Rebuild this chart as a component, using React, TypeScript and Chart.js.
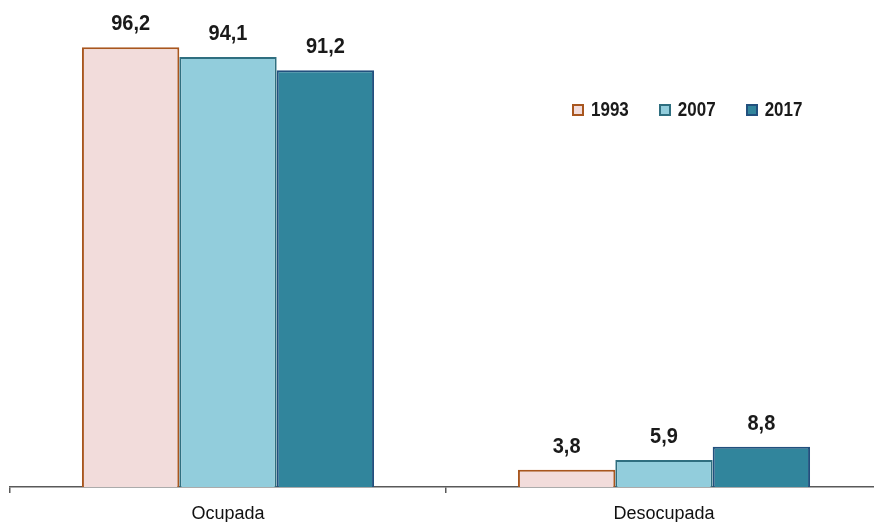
import React, { useEffect, useRef } from "react";
import { Chart, registerables } from "chart.js";

Chart.register(...registerables);

const categories = ["Ocupada", "Desocupada"];
const years = ["1993", "2007", "2017"];
const values1993 = [96.2, 3.8];
const values2007 = [94.1, 5.9];
const values2017 = [91.2, 8.8];
const fillColors = ["#F2DCDB", "#92CDDC", "#31859C"];
const borderColors = ["#A8561E", "#2F6F80", "#22507E"];

const FONT = "'Liberation Sans', Arial, sans-serif";

const valueLabels = {
  id: "valueLabels",
  afterDatasetsDraw(chart: any) {
    const ctx = chart.ctx;
    ctx.save();
    ctx.font = `bold 20px ${FONT}`;
    ctx.fillStyle = "#1a1a1a";
    ctx.textAlign = "center";
    ctx.textBaseline = "middle";
    chart.data.datasets.forEach((ds: any, i: number) => {
      chart.getDatasetMeta(i).data.forEach((bar: any, j: number) => {
        const v = Number(ds.data[j]).toFixed(1).replace(".", ",");
        ctx.save();
        ctx.translate(bar.x, bar.y - 23);
        ctx.scale(1, 1.08);
        ctx.fillText(v, 0, 0);
        ctx.restore();
      });
    });
    ctx.restore();
  },
};

export default function App() {
  const canvasRef = useRef<HTMLCanvasElement | null>(null);

  useEffect(() => {
    if (!canvasRef.current) return;
    const series = [values1993, values2007, values2017];
    const chart = new Chart(canvasRef.current, {
      type: "bar",
      data: {
        labels: categories,
        datasets: years.map((y, i) => ({
          label: y,
          data: series[i],
          backgroundColor: fillColors[i],
          borderColor: borderColors[i],
          borderWidth: 2,
          categoryPercentage: 0.67,
          barPercentage: 1.0,
        })),
      },
      options: {
        animation: false,
        responsive: false,
        devicePixelRatio: 1,
        layout: { padding: { left: 10, top: 30, right: 2, bottom: 0 } },
        plugins: {
          legend: { display: false },
          tooltip: { enabled: false },
        },
        scales: {
          y: { display: false, min: 0, max: 100 },
          x: {
            grid: {
              display: true,
              drawOnChartArea: false,
              drawTicks: true,
              tickLength: 6,
              color: "#595959",
              lineWidth: 1.5,
              offset: true,
            },
            border: { display: true, color: "#595959", width: 1.5 },
            ticks: { font: { family: FONT, size: 18 }, color: "#111111", padding: 10 },
            afterFit(scale: any) {
              scale.height = 35;
            },
          },
        },
      },
      plugins: [valueLabels],
    });
    return () => chart.destroy();
  }, []);

  return (
    <div style={{ position: "fixed", left: 0, top: 0, width: 874, height: 522, overflow: "hidden", background: "#fff" }}>
      <canvas ref={canvasRef} width={884} height={522} style={{ position: "absolute", left: 0, top: 0, width: 884, height: 522 }} />
      <div
        style={{
          position: "absolute",
          left: 572,
          top: 100,
          display: "flex",
          alignItems: "center",
          fontFamily: FONT,
          fontWeight: "bold",
          fontSize: 17,
          color: "#1a1a1a",
        }}
      >
        {years.map((y, i) => (
          <div key={y} style={{ display: "flex", alignItems: "center", marginRight: 30 }}>
            <span
              style={{
                display: "inline-block",
                width: 8,
                height: 8,
                background: fillColors[i],
                border: `2px solid ${borderColors[i]}`,
                marginRight: 7,
              }}
            />
            <span style={{ display: "inline-block", transform: "scaleY(1.15)" }}>{y}</span>
          </div>
        ))}
      </div>
    </div>
  );
}
